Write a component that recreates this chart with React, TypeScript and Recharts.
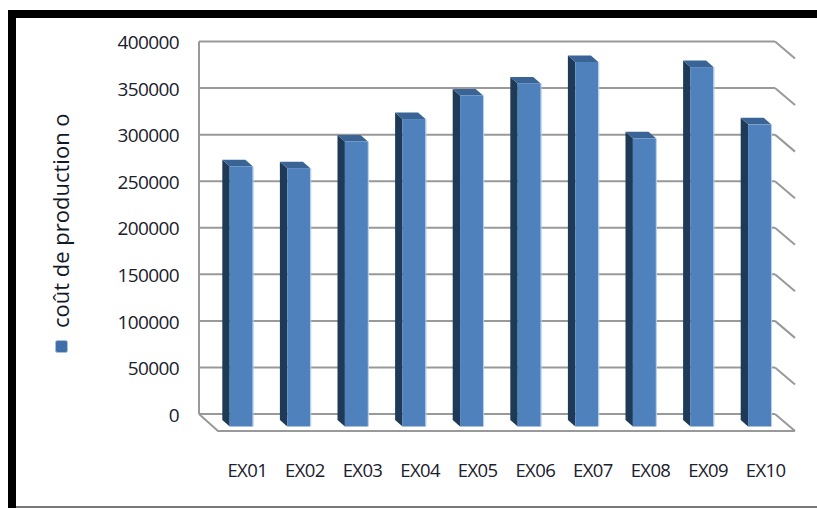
import { Bar, BarChart, CartesianGrid, XAxis, YAxis } from "recharts";

const exercises = ["EX01", "EX02", "EX03", "EX04", "EX05", "EX06", "EX07", "EX08", "EX09", "EX10"];
const productionCost = [273000, 271000, 299600, 323700, 349000, 362000, 385000, 303000, 379500, 318000];
const yTicks = [0, 50000, 100000, 150000, 200000, 250000, 300000, 350000, 400000];
const seriesName = "coût de production o";

const chartData = exercises.map((name, i) => ({ name, cost: productionCost[i] }));

const FONT = "'Open Sans', sans-serif";
const TEXT = "#1a202c";
const GRID = "#999999";

// depth of the fake 3D box drawn around each bar
const SIDE_W = 7.4;
const SIDE_H = 6.5;
const FLOOR_DROP = 6;
const BAR_SHIFT = 6.3;

function Box3D(props: any) {
  const { x, y, width, height } = props;
  const left = x + BAR_SHIFT;
  const front = left + SIDE_W;
  const right = front + width;
  const bottom = y + height + FLOOR_DROP;
  return (
    <g>
      <polygon
        points={`${left},${y} ${front},${y + SIDE_H} ${front},${bottom + SIDE_H} ${left},${bottom}`}
        fill="#1f3a57"
      />
      <polygon
        points={`${left},${y} ${right - SIDE_W},${y} ${right},${y + SIDE_H} ${front},${y + SIDE_H}`}
        fill="#3a6496"
      />
      <rect x={front} y={y + SIDE_H} width={width} height={height + FLOOR_DROP} fill="#4f81bd" />
      <line x1={right + 0.5} y1={y + SIDE_H} x2={right + 0.5} y2={bottom + SIDE_H} stroke="#b4cdec" strokeWidth={1} />
    </g>
  );
}

// grid line on the back wall, continued along the right side wall;
// the zero line also closes the floor
function WallLine(props: any) {
  const { x1, x2, y1 } = props;
  const isFloor = y1 > 400;
  return (
    <g stroke={GRID} strokeWidth={2} fill="none">
      <line x1={x1} y1={y1} x2={x2} y2={y1} />
      <line x1={x2} y1={y1} x2={x2 + 20} y2={y1 + 17} />
      {isFloor && <polyline points={`${x1},${y1} ${x1 + 19},${y1 + 17} ${x2 + 20},${y1 + 17}`} />}
    </g>
  );
}

function SeriesKey() {
  return (
    <g>
      <rect x={55.5} y={340.5} width={12} height={12} rx={2} fill="#3f6ea8" stroke="#a9bfd9" strokeWidth={1} />
      <text
        transform="translate(69,328) rotate(-90)"
        fontFamily={FONT}
        fontSize={22}
        fill="#111827"
      >
        {seriesName}
      </text>
    </g>
  );
}

export default function App() {
  return (
    <div style={{ position: "absolute", left: 0, top: 0, width: 817, height: 508, background: "#fff", overflow: "hidden" }}>
      <div style={{ position: "absolute", left: 8, top: 10, width: 809, height: 8, background: "#000" }} />
      <div style={{ position: "absolute", left: 8, top: 10, width: 8, height: 498, background: "#000" }} />
      <div style={{ position: "absolute", left: 16, top: 506, width: 801, height: 2, background: "#777" }} />
      <BarChart
        width={817}
        height={508}
        data={chartData}
        margin={{ top: 41.5, right: 42, bottom: 0, left: 0 }}
        barSize={23}
        style={{ position: "absolute", left: 0, top: 0 }}
      >
        <CartesianGrid vertical={false} horizontal={(p: any) => <WallLine key={p.index} {...p} />} />
        <XAxis
          dataKey="name"
          height={94}
          axisLine={false}
          tickLine={false}
          interval={0}
          tickMargin={44}
          tick={{ dx: 19.5, fontFamily: FONT, fontSize: 18.5, letterSpacing: -0.6, fill: TEXT }}
        />
        <YAxis
          width={199}
          domain={[0, 400000]}
          ticks={yTicks}
          interval={0}
          axisLine={{ stroke: GRID, strokeWidth: 2 }}
          tickLine={false}
          tickMargin={14}
          tick={{ dy: 1, fontFamily: FONT, fontSize: 19, letterSpacing: -0.6, fill: TEXT }}
          label={{ content: <SeriesKey /> }}
        />
        <Bar dataKey="cost" name={seriesName} shape={<Box3D />} isAnimationActive={false} />
      </BarChart>
    </div>
  );
}
